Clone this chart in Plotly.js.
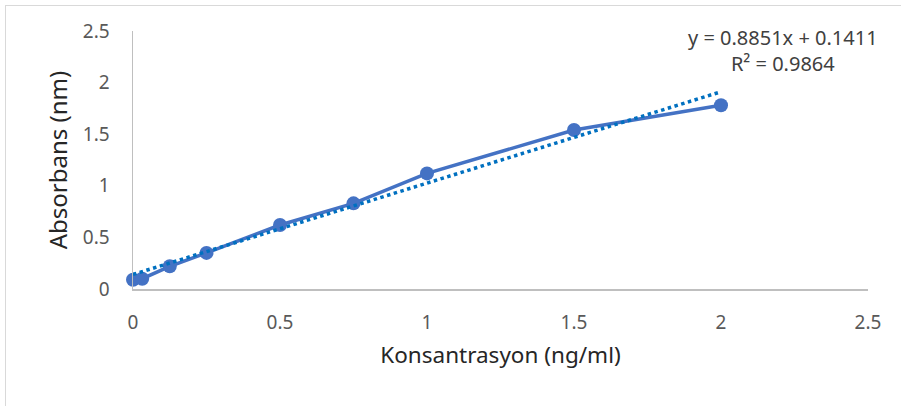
<!DOCTYPE html>
<html><head><meta charset="utf-8">
<script src="https://cdn.plot.ly/plotly-3.0.1.min.js"></script>
<style>
html,body{margin:0;padding:0;background:#fff;}
#frame{position:absolute;left:5px;top:5px;width:1000px;height:500px;border:1px solid #d9d9d9;box-sizing:border-box;}
#chart{position:absolute;left:0;top:0;width:901px;height:406px;}
</style></head>
<body>
<div id="frame"></div>
<div id="chart"></div>
<script>
const concentration = [0, 0.03125, 0.125, 0.25, 0.5, 0.75, 1, 1.5, 2];
const absorbance = [0.09, 0.10, 0.22, 0.35, 0.62, 0.83, 1.12, 1.54, 1.78];
const slope = 0.8851;
const intercept = 0.1411;
const rSquared = 0.9864;
const trendX = [0, 2];
const trendY = trendX.map(x => slope * x + intercept);
const tickVals = [0, 0.5, 1, 1.5, 2, 2.5];
const tickText = ['0', '0.5', '1', '1.5', '2', '2.5'];

const font = "Noto Sans, sans-serif";
const data = [
  {x: concentration, y: absorbance, type: 'scatter', mode: 'lines+markers',
   line: {color: '#4472C4', width: 3.5}, marker: {color: '#4472C4', size: 14},
   showlegend: false, cliponaxis: false},
  {x: trendX, y: trendY, type: 'scatter', mode: 'lines',
   line: {color: '#0070C0', width: 3.5, dash: 'dot'}, showlegend: false}
];
const layout = {
  width: 901, height: 406,
  margin: {l: 133, r: 33, t: 31, b: 117},
  paper_bgcolor: 'rgba(0,0,0,0)', plot_bgcolor: 'rgba(0,0,0,0)',
  font: {family: font, size: 19, color: '#595959'},
  xaxis: {range: [0, 2.5], tickvals: tickVals, ticktext: tickText, showgrid: false, zeroline: false,
    showline: true, linecolor: '#bfbfbf', linewidth: 1.5, ticks: '', ticklabelstandoff: 16,
    title: {text: 'Konsantrasyon (ng/ml)', font: {size: 22.5, color: '#262626'}, standoff: 13}},
  yaxis: {range: [0, 2.5], tickvals: tickVals, ticktext: tickText, showgrid: false, zeroline: false,
    showline: true, linecolor: '#bfbfbf', linewidth: 1.5, ticks: '', ticklabelstandoff: 18,
    title: {text: 'Absorbans (nm)', font: {size: 24, color: '#262626'}, standoff: 8}},
  annotations: [
    {xref: 'paper', yref: 'paper', x: 1.017, y: 1.035, xanchor: 'right', yanchor: 'top', align: 'center',
     showarrow: false, font: {size: 20, color: '#404040'},
     text: 'y = ' + slope.toFixed(4) + 'x + ' + intercept.toFixed(4) + '<br>R² = ' + rSquared.toFixed(4)}
  ]
};
Plotly.newPlot('chart', data, layout, {displayModeBar: false, staticPlot: true});
</script>
</body></html>
